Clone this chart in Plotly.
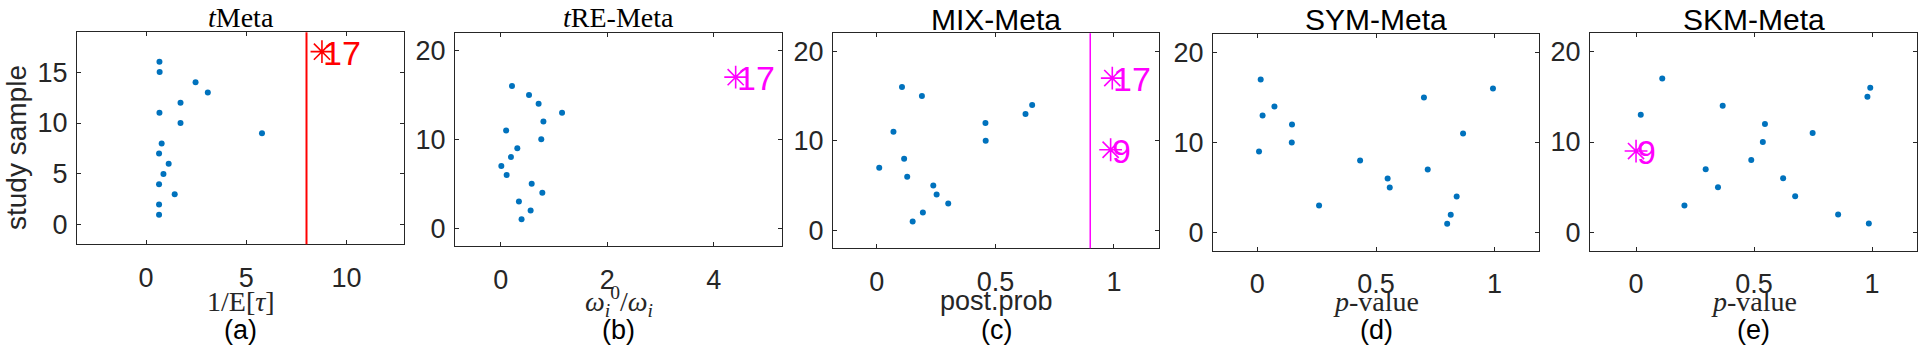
import plotly.graph_objects as go

W, H = 1920, 351

# ---- data ----
titles = ["<i>t</i>Meta", "<i>t</i>RE-Meta", "MIX-Meta", "SYM-Meta", "SKM-Meta"]
xlabels = ["1/E[<i>τ</i>]", "<i>ω</i><sub><i>i</i></sub><sup>0</sup>/<i>ω</i><sub><i>i</i></sub>",
           "post.prob", "<i>p</i>-value", "<i>p</i>-value"]
letters = ["(a)", "(b)", "(c)", "(d)", "(e)"]

a_samples = list(range(1, 17))
a_vals = [0.65, 0.65, 1.43, 0.65, 0.87, 1.13, 0.65, 0.78, 5.78, 1.72, 0.67, 1.72, 3.08, 2.47, 0.68, 0.67]
a_flag_samples = [17]
a_flag_vals = [8.77]

b_samples = list(range(1, 17))
b_vals = [0.39, 0.56, 0.34, 0.78, 0.58, 0.11, 0.01, 0.19, 0.31, 0.76, 0.10, 0.80, 1.15, 0.71, 0.53, 0.21]
b_flag_samples = [17]
b_flag_vals = [4.41]

c_samples = [1, 2, 3, 4, 5, 6, 7, 8, 10, 11, 12, 13, 14, 15, 16]
c_vals = [0.151, 0.194, 0.301, 0.252, 0.238, 0.128, 0.01, 0.115, 0.459, 0.07, 0.458, 0.627, 0.655, 0.19, 0.106]
c_flag_samples = [9, 17]
c_flag_vals = [0.986, 0.993]

d_samples = list(range(1, 18))
d_vals = [0.80, 0.815, 0.26, 0.84, 0.558, 0.549, 0.718, 0.433, 0.007, 0.145, 0.867, 0.146, 0.022, 0.072,
          0.702, 0.993, 0.014]
d_flag_samples = []
d_flag_vals = []

e_samples = [1, 2, 3, 4, 5, 6, 7, 8, 10, 11, 12, 13, 14, 15, 16, 17]
e_vals = [0.986, 0.856, 0.205, 0.674, 0.347, 0.623, 0.295, 0.488, 0.537, 0.748, 0.546, 0.020, 0.367,
          0.980, 0.992, 0.111]
e_flag_samples = [9]
e_flag_vals = [0.0]

thresholds = [8, None, 0.9, None, None]
flag_colors = ["#ff0000", "#ff00ff", "#ff00ff", "#ff00ff", "#ff00ff"]

x_ranges = [[-3.44, 12.86], [-0.86, 5.28], [-0.185, 1.19], [-0.187, 1.187], [-0.195, 1.19]]
y_ranges = [[-1.9, 18.9], [-2, 22], [-2, 22], [-2, 22], [-2, 22]]
x_ticks = [[0, 5, 10], [0, 2, 4], [0, 0.5, 1], [0, 0.5, 1], [0, 0.5, 1]]
y_ticks = [[0, 5, 10, 15], [0, 10, 20], [0, 10, 20], [0, 10, 20], [0, 10, 20]]

# panel boxes in pixels: left, right, top, bottom
boxes = [(77, 404, 32.3, 244.3), (455, 782, 32.7, 246), (833, 1159, 33.3, 248.3),
         (1213, 1539, 34.3, 250.7), (1590, 1917, 33.3, 250.7)]

panels = [
    (a_samples, a_vals, a_flag_samples, a_flag_vals),
    (b_samples, b_vals, b_flag_samples, b_flag_vals),
    (c_samples, c_vals, c_flag_samples, c_flag_vals),
    (d_samples, d_vals, d_flag_samples, d_flag_vals),
    (e_samples, e_vals, e_flag_samples, e_flag_vals),
]

SANS = "Liberation Sans, Arial, sans-serif"
SERIF = "Liberation Serif, Times New Roman, serif"
AX = "#262626"

fig = go.Figure()
annotations = []
shapes = []
layout = {}

for i, (samples, vals, fs, fv) in enumerate(panels):
    n = "" if i == 0 else str(i + 1)
    xa, ya = "x" + n, "y" + n
    l, r, t, b = boxes[i]

    fig.add_trace(go.Scatter(x=vals, y=samples, mode="markers", xaxis=xa, yaxis=ya,
                             marker=dict(size=6, color="#0072bd"), showlegend=False))
    if fs:
        fig.add_trace(go.Scatter(x=fv, y=fs, mode="markers", xaxis=xa, yaxis=ya, showlegend=False,
                                 marker=dict(symbol="asterisk-open", size=19, color=flag_colors[i],
                                             line=dict(width=1.6, color=flag_colors[i]))))
        for sx, sy in zip(fv, fs):
            annotations.append(dict(x=sx, y=sy, xref=xa, yref=ya, text=str(sy), showarrow=False,
                                    xanchor="left", yanchor="middle", xshift=-1, yshift=-1,
                                    font=dict(family=SANS, size=34, color=flag_colors[i])))
    if thresholds[i] is not None:
        shapes.append(dict(type="line", xref=xa, yref=ya + " domain", x0=thresholds[i], x1=thresholds[i],
                           y0=0, y1=1, line=dict(color=flag_colors[i], width=2 if i == 0 else 1.5)))

    common = dict(showline=True, linecolor=AX, linewidth=1.2, mirror="ticks", ticks="inside",
                  ticklen=4, tickcolor=AX, tickwidth=1, showgrid=False, zeroline=False,
                  tickfont=dict(family=SANS, size=27, color=AX))
    layout["xaxis" + n] = dict(common, domain=[l / W, r / W], range=x_ranges[i], tickvals=x_ticks[i],
                               anchor=ya, ticklabelstandoff=9)
    layout["yaxis" + n] = dict(common, domain=[1 - b / H, 1 - t / H], range=y_ranges[i],
                               tickvals=y_ticks[i], anchor=xa, ticklabelstandoff=3)

    cx = (l + r) / 2 / W
    if i < 2:
        annotations.append(dict(x=cx, y=1, xref="paper", yref="paper", text=titles[i], showarrow=False,
                                xanchor="center", yanchor="top",
                                font=dict(family=SERIF, size=28, color="black")))
    else:
        annotations.append(dict(x=cx, y=1 - 19.5 / H, xref="paper", yref="paper", text=titles[i],
                                showarrow=False, xanchor="center", yanchor="middle",
                                font=dict(family=SANS, size=30, color="black")))
    annotations.append(dict(x=cx, y=1 - 301 / H, xref="paper", yref="paper", text=xlabels[i],
                            showarrow=False, xanchor="center", yanchor="middle",
                            font=dict(family=SANS if i == 2 else SERIF, size=27 if i == 2 else 28,
                                      color=AX)))
    annotations.append(dict(x=cx, y=1 - 330 / H, xref="paper", yref="paper", text=letters[i],
                            showarrow=False, xanchor="center", yanchor="middle",
                            font=dict(family=SANS, size=27, color="black")))

annotations.append(dict(x=16 / W, y=1 - 148 / H, xref="paper", yref="paper", text="study sample",
                        textangle=-90, showarrow=False, xanchor="center", yanchor="middle",
                        font=dict(family=SANS, size=28, color=AX)))

fig.update_layout(width=W, height=H, margin=dict(l=0, r=0, t=0, b=0), paper_bgcolor="white",
                  plot_bgcolor="white", annotations=annotations, shapes=shapes, **layout)

fig.write_html("out.html", config={"displayModeBar": False},
               post_script="document.body.style.margin='0';")
